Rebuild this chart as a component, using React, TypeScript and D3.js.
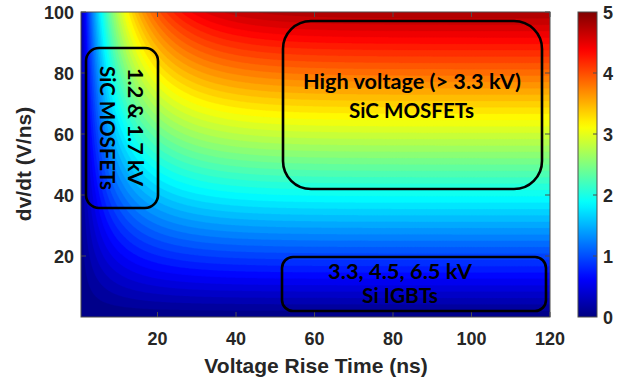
import React, { useMemo } from "react";
import * as d3 from "d3";

// ---- data ----
const riseTimeDomain = [0.5, 120]; // ns
const dvdtDomain = [0, 100]; // V/ns
const xTicks = [20, 40, 60, 80, 100, 120];
const yTicks = [20, 40, 60, 80, 100];
const colorTicks = [0, 1, 2, 3, 4, 5];
const colorDomain = [0, 5]; // kV
const kvPerVns = 0.048; // plateau voltage (kV) per V/ns
const riseTimeConstant = 11.5; // ns
const levelStep = 0.1;

const annotations = [
  { x0: 86, y0: 48, x1: 158, y1: 208, r: 13 },
  { x0: 283, y0: 21, x1: 542, y1: 189, r: 28 },
  { x0: 282, y0: 257, x1: 546, y1: 311, r: 11 },
];

// ---- layout ----
const W = 626, H = 381;
const PL = 81, PR = 550, PT = 12, PB = 317;
const CBL = 578, CBR = 597;

function jet(v: number) {
  const c = (a: number) => Math.max(0, Math.min(1, a));
  const r = c(1.5 - Math.abs(4 * v - 3));
  const g = c(1.5 - Math.abs(4 * v - 2));
  const b = c(1.5 - Math.abs(4 * v - 1));
  return d3.rgb(r * 255, g * 255, b * 255).formatHex();
}

export default function App() {
  const x = d3.scaleLinear().domain(riseTimeDomain).range([PL, PR]);
  const y = d3.scaleLinear().domain(dvdtDomain).range([PB, PT]);
  const cnorm = d3.scaleLinear().domain(colorDomain).range([0, 1]).clamp(true);
  const cy = d3.scaleLinear().domain(colorDomain).range([PB, PT]);

  const paths = useMemo(() => {
    const nx = 320, ny = 220;
    const values = new Float64Array(nx * ny);
    for (let j = 0; j < ny; j++) {
      const dv = dvdtDomain[1] - ((j + 0.5) / ny) * (dvdtDomain[1] - dvdtDomain[0]);
      for (let i = 0; i < nx; i++) {
        const tr = riseTimeDomain[0] + ((i + 0.5) / nx) * (riseTimeDomain[1] - riseTimeDomain[0]);
        values[j * nx + i] = dv * kvPerVns * (1 - Math.exp(-tr / riseTimeConstant));
      }
    }
    const thresholds = d3.range(0, colorDomain[1] + 1e-9, levelStep);
    const contours = d3.contours().size([nx, ny]).thresholds(thresholds)(values as any);
    const proj = d3.geoTransform({
      point(px: number, py: number) {
        const tv = riseTimeDomain[0] + (px / nx) * (riseTimeDomain[1] - riseTimeDomain[0]);
        const dv = dvdtDomain[1] - (py / ny) * (dvdtDomain[1] - dvdtDomain[0]);
        (this as any).stream.point(x(tv), y(dv));
      },
    });
    const gp = d3.geoPath(proj);
    return contours.map((c) => ({
      d: gp(c as any) || "",
      fill: jet(cnorm(c.value + levelStep / 2)),
    }));
  }, []);

  const gradStops = d3.range(0, 1.0001, 0.02);
  const axisColor = "#4d4d4d";
  const textColor = "#262626";
  const tickLen = 5;

  return (
    <svg
      width={W}
      height={H}
      style={{ position: "absolute", left: 0, top: 0, background: "#fff" }}
      fontFamily="'Liberation Sans', Arial, sans-serif"
    >
      <defs>
        <clipPath id="plotclip">
          <rect x={PL} y={PT} width={PR - PL} height={PB - PT} />
        </clipPath>
        <linearGradient id="cbgrad" x1="0" y1="1" x2="0" y2="0">
          {gradStops.map((s) => (
            <stop key={s} offset={s} stopColor={jet(s)} />
          ))}
        </linearGradient>
      </defs>
      <rect width={W} height={H} fill="#fff" />
      <g clipPath="url(#plotclip)">
        <rect x={PL} y={PT} width={PR - PL} height={PB - PT} fill={jet(0)} />
        {paths.map((p, i) => (
          <path key={i} d={p.d} fill={p.fill} stroke={p.fill} strokeWidth={0.3} />
        ))}
      </g>
      {/* frame */}
      <rect x={PL} y={PT} width={PR - PL} height={PB - PT} fill="none" stroke={axisColor} strokeWidth={1} />
      {xTicks.map((t) => (
        <g key={"xt" + t}>
          <line x1={x(t)} x2={x(t)} y1={PB} y2={PB - tickLen} stroke={axisColor} />
          <line x1={x(t)} x2={x(t)} y1={PT} y2={PT + tickLen} stroke={axisColor} />
          <text x={x(t)} y={345} textAnchor="middle" fontSize={18} fontWeight="bold" fill={textColor}>
            {t}
          </text>
        </g>
      ))}
      {yTicks.map((t) => (
        <g key={"yt" + t}>
          <line x1={PL} x2={PL + tickLen} y1={y(t)} y2={y(t)} stroke={axisColor} />
          <line x1={PR} x2={PR - tickLen} y1={y(t)} y2={y(t)} stroke={axisColor} />
          <text x={74} y={y(t) + 6.5} textAnchor="end" fontSize={18} fontWeight="bold" fill={textColor}>
            {t}
          </text>
        </g>
      ))}
      <text x={316} y={373} textAnchor="middle" fontSize={21} fontWeight="bold" fill={textColor}>
        Voltage Rise Time (ns)
      </text>
      <text
        transform={`translate(31,164) rotate(-90)`}
        textAnchor="middle"
        fontSize={21}
        fontWeight="bold"
        fill={textColor}
      >
        dv/dt (V/ns)
      </text>

      {/* annotations */}
      {annotations.map((a, i) => (
        <rect
          key={"an" + i}
          x={a.x0}
          y={a.y0}
          width={a.x1 - a.x0}
          height={a.y1 - a.y0}
          rx={a.r}
          ry={a.r}
          fill="none"
          stroke="#000"
          strokeWidth={2.6}
        />
      ))}
      <g fontFamily="Lato, 'Open Sans', sans-serif" fontWeight="bold" fill="#000">
        <text x={412} y={89} textAnchor="middle" fontSize={21} textLength={218} lengthAdjust="spacingAndGlyphs">
          High voltage (&gt; 3.3 kV)
        </text>
        <text x={411.5} y={118} textAnchor="middle" fontSize={21} textLength={125} lengthAdjust="spacingAndGlyphs">
          SiC MOSFETs
        </text>
        <text x={400} y={279} textAnchor="middle" fontSize={21} textLength={144} lengthAdjust="spacingAndGlyphs">
          3.3, 4.5, 6.5 kV
        </text>
        <text x={400} y={303} textAnchor="middle" fontSize={20} textLength={76} lengthAdjust="spacingAndGlyphs">
          Si IGBTs
        </text>
        <text transform="translate(128,68) rotate(90)" fontSize={20} textLength={118} lengthAdjust="spacingAndGlyphs">
          1.2 &amp; 1.7 kV
        </text>
        <text transform="translate(100,66) rotate(90)" fontSize={20} textLength={124} lengthAdjust="spacingAndGlyphs">
          SiC MOSFETs
        </text>
      </g>

      {/* colorbar */}
      <rect x={CBL} y={PT} width={CBR - CBL} height={PB - PT} fill="url(#cbgrad)" stroke={axisColor} strokeWidth={1} />
      {colorTicks.map((t) => (
        <g key={"ct" + t}>
          {t > 0 && t < 5 && (
            <line x1={CBR} x2={CBR - 4} y1={cy(t)} y2={cy(t)} stroke={axisColor} />
          )}
          <text x={603} y={cy(t) + 6.5} fontSize={18} fontWeight="bold" fill={textColor}>
            {t}
          </text>
        </g>
      ))}
    </svg>
  );
}
